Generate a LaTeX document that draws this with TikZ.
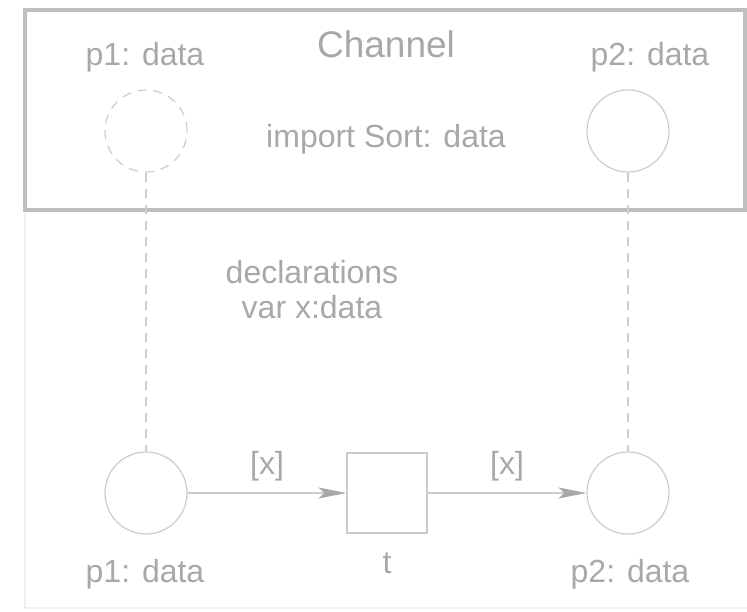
\documentclass[tikz,border=0pt]{standalone}
\usepackage{fontspec}
\setmainfont{Liberation Sans}
\usetikzlibrary{arrows.meta}
\usetikzlibrary{positioning}

\definecolor{lgray}{gray}{0.80}
\definecolor{tgray}{gray}{0.66}
\tikzset{
 place/.style={circle, draw=lgray, line width=1.2pt, minimum size=82pt, inner sep=0pt},
 trans/.style={rectangle, draw=lgray, line width=1.2pt, minimum size=80pt, inner sep=0pt},
 lbl/.style={text=tgray, font=\fontsize{32}{38}\selectfont, inner sep=1pt},
 fuse/.style={draw=lgray, line width=1.2pt, dash pattern=on 9pt off 7pt},
 arc/.style={draw=lgray, line width=1.2pt, -{Stealth[length=28pt, width=11pt, inset=6pt, fill=tgray, color=tgray]}}
}

\begin{document}
\begin{tikzpicture}[x=1pt, y=-1pt]
\useasboundingbox (0,0) rectangle (747,612);
% frame of the page
\draw[gray!12, line width=2pt] (25,210) -- (25,608) -- (747,608);
\draw[gray!50, line width=4pt] (25,10) rectangle (745,210);
\node[lbl, font=\fontsize{37}{42}\selectfont] (chan) at (386,44) {Channel};
\node[lbl] (imp) at (386,139) {import Sort: data};
% channel places
\node[place, dashed, dash pattern=on 9pt off 7pt] (cp1) at (146,131) {};
\node[place] (cp2) at (628,131) {};
\node[lbl] (cp1l) at (145,57) {p1: data};
\node[lbl] (cp2l) at (650,57) {p2: data};
% net
\node[lbl] (decl) at (312,272) {declarations};
\node[lbl] (var) at (312,307) {var x:data};
\node[place] (p1) at (146,493) {};
\node[trans] (t) at (387,493) {};
\node[place] (p2) at (628,493) {};
\node[lbl] (p1l) at (145,574) {p1: data};
\node[lbl] (tl) at (387,563) {t};
\node[lbl] (p2l) at (630,574) {p2: data};
\draw[arc] (p1) -- node[lbl, above=10pt] (a1) {[x]} (t);
\draw[arc] (t) -- node[lbl, above=10pt] (a2) {[x]} (p2);
% fusion links
\draw[fuse] (cp1) -- (p1);
\draw[fuse] (cp2) -- (p2);
\end{tikzpicture}
\end{document}
